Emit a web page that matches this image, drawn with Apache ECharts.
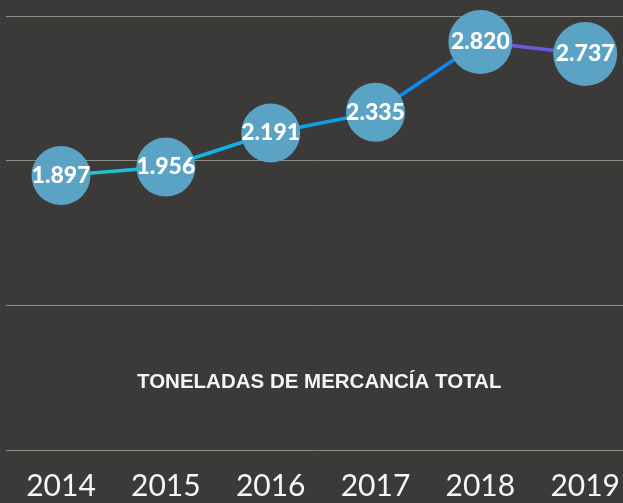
<!DOCTYPE html>
<html>
<head>
<meta charset="utf-8">
<script src="https://cdn.jsdelivr.net/npm/echarts@6/dist/echarts.min.js"></script>
<style>
  html, body { margin: 0; padding: 0; background: #3c3a38; }
  #chart { width: 623px; height: 503px; }
</style>
</head>
<body>
<div id="chart"></div>
<script>
var years = ['2014', '2015', '2016', '2017', '2018', '2019'];
var toneladas = [1897, 1956, 2191, 2335, 2820, 2737];
var titulo = 'TONELADAS DE MERCANCÍA TOTAL';

// 1897 -> "1.897"
function fmt(v) {
    return String(v).replace(/\B(?=(\d{3})+(?!\d))/g, '.');
}

var myChart = echarts.init(document.getElementById('chart'));
var option = {
    backgroundColor: '#3c3a38',
    animation: false,
    title: {
        text: titulo,
        left: 132,
        top: 367,
        textStyle: {
            color: '#f4f4f4',
            fontFamily: 'Liberation Sans',
            fontWeight: 'bold',
            fontSize: 20.5
        }
    },
    // grid 0 only carries the full-width horizontal lines, grid 1 the series
    grid: [
        { left: 6, right: 0, top: 16, height: 434 },
        { left: 61, right: 36, top: 16, height: 434 }
    ],
    xAxis: [{
        type: 'category',
        gridIndex: 0,
        data: years,
        show: false
    }, {
        type: 'category',
        gridIndex: 1,
        data: years,
        boundaryGap: false,
        axisTick: { show: false },
        axisLine: { show: false },
        splitLine: { show: false },
        axisLabel: {
            color: '#f6f6f6',
            fontFamily: 'Lato',
            fontSize: 30,
            margin: 21
        }
    }],
    yAxis: [{
        type: 'value',
        gridIndex: 0,
        min: 0,
        max: 3000,
        interval: 1000,
        axisLabel: { show: false },
        axisLine: { show: false },
        axisTick: { show: false },
        splitLine: { lineStyle: { color: '#8e8a86', width: 1 } }
    }, {
        type: 'value',
        gridIndex: 1,
        min: 0,
        max: 3000,
        interval: 1000,
        axisLabel: { show: false },
        axisLine: { show: false },
        axisTick: { show: false },
        splitLine: { show: false }
    }],
    series: [{
        type: 'line',
        xAxisIndex: 1,
        yAxisIndex: 1,
        data: toneladas,
        symbol: 'circle',
        symbolSize: function (v, p) { return p.dataIndex >= 4 ? 64 : 59; },
        itemStyle: { color: '#5ba3c5', borderWidth: 0 },
        lineStyle: {
            width: 3.5,
            color: new echarts.graphic.LinearGradient(0, 0, 1, 0, [
                { offset: 0, color: '#22c9c2' },
                { offset: 0.3, color: '#12b4e4' },
                { offset: 0.6, color: '#0a94f2' },
                { offset: 0.8, color: '#0a84f8' },
                { offset: 0.801, color: '#6b58e0' },
                { offset: 1, color: '#6b58e0' }
            ])
        },
        label: {
            show: true,
            position: 'inside',
            color: '#ffffff',
            fontFamily: 'Lato',
            fontWeight: 900,
            fontSize: 23,
            formatter: function (p) { return fmt(p.value); }
        },
        emphasis: { disabled: true }
    }]
};
myChart.setOption(option);
</script>
</body>
</html>
